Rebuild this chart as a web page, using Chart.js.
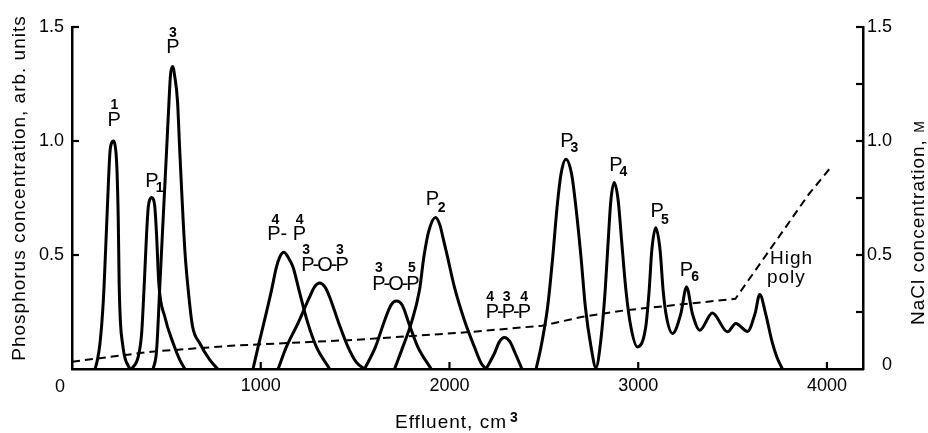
<!DOCTYPE html>
<html><head><meta charset="utf-8">
<script src="https://cdn.jsdelivr.net/npm/chart.js@4"></script>
<style>html,body{margin:0;padding:0;background:#fff}#wrap{width:928px;height:433px;position:relative}</style>
</head><body><div id="wrap"><canvas id="c"></canvas></div>
<script>
// ---- axis ticks ----
const xTicks = [0, 1000, 2000, 3000, 4000];
const yLeftTicks = [0.5, 1.0, 1.5];
const yRightTicks = [0, 0.5, 1.0, 1.5];
const yRightMinor = [0.25, 0.75, 1.25];

// ---- peaks (effluent cm3, phosphorus arb. units) ----
const peak1P_x = [122, 132, 148, 166, 178, 189, 201, 212, 219, 226, 233, 238, 245, 250, 257, 268, 280, 307];
const peak1P_y = [0, 0.03, 0.11, 0.30, 0.52, 0.74, 0.95, 0.995, 1.0, 0.99, 0.95, 0.88, 0.66, 0.37, 0.2, 0.11, 0.05, 0];

const peakP1_x = [316, 351, 369, 383, 395, 404, 413, 422, 431, 439, 448, 460, 492, 536, 571, 598];
const peakP1_y = [0, 0.054, 0.157, 0.375, 0.59, 0.71, 0.745, 0.752, 0.745, 0.71, 0.59, 0.375, 0.228, 0.113, 0.04, 0];

const peak3P_x = [430, 448, 466, 483, 501, 514, 522, 533, 545, 559, 571, 598, 616, 638, 677, 730, 772];
const peak3P_y = [0, 0.08, 0.375, 0.66, 0.956, 1.175, 1.29, 1.327, 1.28, 1.175, 0.956, 0.52, 0.345, 0.19, 0.113, 0.04, 0];

const peakPP_x = [959, 986, 1016, 1057, 1083, 1100, 1123, 1145, 1171, 1203, 1250, 1295, 1365];
const peakPP_y = [0, 0.097, 0.2, 0.345, 0.447, 0.49, 0.512, 0.49, 0.447, 0.345, 0.2, 0.097, 0];

const peakPOP33_x = [1092, 1136, 1197, 1259, 1285, 1312, 1340, 1365, 1414, 1462, 1506, 1550];
const peakPOP33_y = [0, 0.097, 0.2, 0.316, 0.36, 0.377, 0.36, 0.316, 0.2, 0.097, 0.03, 0];

const peakPOP35_x = [1550, 1608, 1651, 1690, 1718, 1750, 1785, 1832, 1903];
const peakPOP35_y = [0, 0.097, 0.2, 0.28, 0.298, 0.28, 0.2, 0.097, 0];

const peakP2_x = [1709, 1753, 1797, 1841, 1864, 1891, 1926, 1950, 1965, 1986, 2026, 2079, 2132, 2168, 2194];
const peakP2_y = [0, 0.097, 0.2, 0.345, 0.49, 0.607, 0.665, 0.63, 0.578, 0.505, 0.36, 0.214, 0.097, 0.025, 0];

const peakPPP_x = [2194, 2238, 2265, 2291, 2320, 2349, 2384];
const peakPPP_y = [0, 0.068, 0.12, 0.138, 0.12, 0.068, 0];

const tail_x = [2459, 2485, 2520, 2547, 2570, 2591, 2617, 2647, 2670, 2697, 2720, 2750, 2776, 2802, 2825, 2841, 2855, 2873, 2894, 2912, 2935, 2961, 2996, 3040, 3058, 3072, 3093, 3116, 3132, 3150, 3182, 3226, 3256, 3287, 3326, 3393, 3473, 3517, 3579, 3619, 3644, 3675, 3707, 3734, 3764];
const tail_y = [0, 0.097, 0.272, 0.49, 0.709, 0.855, 0.92, 0.855, 0.709, 0.49, 0.272, 0.097, 0.006, 0.127, 0.345, 0.563, 0.738, 0.818, 0.738, 0.563, 0.345, 0.185, 0.097, 0.185, 0.345, 0.52, 0.619, 0.52, 0.345, 0.228, 0.156, 0.243, 0.36, 0.243, 0.17, 0.246, 0.163, 0.2, 0.165, 0.243, 0.327, 0.243, 0.127, 0.054, 0];

// ---- NaCl gradient (M) ----
const nacl_x = [0, 69, 421, 862, 1506, 2106, 2490, 2700, 2935, 3515, 3905, 4013];
const nacl_y = [0.032, 0.039, 0.076, 0.103, 0.128, 0.162, 0.19, 0.228, 0.258, 0.308, 0.768, 0.877];

// ---- peak labels (anchored at data coordinates) ----
const peakLabels = [
  {t:'1', x:225, y:1.158, k:'d'}, {t:'P', x:223, y:1.09, k:'p'},
  {t:'P', x:424, y:0.822, k:'p'}, {t:'1', x:464, y:0.794, k:'d'},
  {t:'3', x:535, y:1.474, k:'d'}, {t:'P', x:535, y:1.412, k:'p'},
  {t:'4', x:1078, y:0.654, k:'d'}, {t:'4', x:1206, y:0.654, k:'d'}, {t:'P- P', x:1137, y:0.588, k:'p'}, {t:'3', x:1241, y:0.522, k:'d'},
  {t:'3', x:1420, y:0.522, k:'d'}, {t:'P-O-P', x:1335, y:0.452, k:'q'},
  {t:'3', x:1626, y:0.443, k:'d'}, {t:'5', x:1801, y:0.443, k:'d'}, {t:'P-O-P', x:1711, y:0.371, k:'q'},
  {t:'P', x:1910, y:0.743, k:'p'}, {t:'2', x:1958, y:0.707, k:'d'},
  {t:'4', x:2215, y:0.317, k:'d'}, {t:'3', x:2303, y:0.317, k:'d'}, {t:'4', x:2396, y:0.317, k:'d'}, {t:'P-P-P', x:2307, y:0.246, k:'q'},
  {t:'P', x:2622, y:1.0, k:'p'}, {t:'3', x:2662, y:0.969, k:'d'},
  {t:'P', x:2882, y:0.894, k:'p'}, {t:'4', x:2922, y:0.864, k:'d'},
  {t:'P', x:3100, y:0.689, k:'p'}, {t:'5', x:3142, y:0.654, k:'d'},
  {t:'P', x:3256, y:0.434, k:'p'}, {t:'6', x:3301, y:0.404, k:'d'},
  {t:'High', x:3698, y:0.482, k:'w'}, {t:'poly', x:3682, y:0.399, k:'w'}
];

const FAMILY = "'Liberation Sans', Arial, Helvetica, sans-serif";
Chart.defaults.font.family = FAMILY;
Chart.defaults.color = '#000';

function pts(xs, ys) { return xs.map((x, i) => ({x: x, y: ys[i]})); }
function peak(xs, ys) {
  return {data: pts(xs, ys), borderColor: '#000', borderWidth: 3, pointRadius: 0,
          cubicInterpolationMode: 'monotone', fill: false, yAxisID: 'y'};
}

const inkPlugin = {
  id: 'ink',
  afterDraw(chart) {
    const {ctx, scales: {x, y, y2}} = chart;
    ctx.save();
    ctx.strokeStyle = '#000';
    ctx.fillStyle = '#000';
    ctx.lineWidth = 2.2;
    const seg = (a, b, c, d) => { ctx.beginPath(); ctx.moveTo(a, b); ctx.lineTo(c, d); ctx.stroke(); };
    xTicks.forEach(v => { if (v > 0) { const px = x.getPixelForValue(v); seg(px, x.top, px, x.top - 7); } });
    yLeftTicks.forEach(v => { const py = y.getPixelForValue(v); seg(y.right, py, y.right + 7, py); });
    yRightTicks.concat(yRightMinor).forEach(v => { if (v > 0) { const py = y2.getPixelForValue(v); seg(y2.left, py, y2.left - 7, py); } });

    // origin label "0" of the effluent axis
    ctx.font = '18px ' + FAMILY;
    ctx.textAlign = 'center'; ctx.textBaseline = 'top';
    ctx.fillText('0', x.getPixelForValue(0) - 12, x.top + 9);

    // right axis tick labels (right aligned)
    ctx.textAlign = 'right'; ctx.textBaseline = 'middle';
    yRightTicks.forEach(v => {
      const py = y2.getPixelForValue(v) - (v === 0 ? 4 : 0);
      ctx.fillText(v === 0 ? '0' : v.toFixed(1), y2.left + 29, py);
    });

    // peak labels
    peakLabels.forEach(l => {
      const px = x.getPixelForValue(l.x), py = y.getPixelForValue(l.y);
      ctx.textBaseline = 'middle';
      if (l.k === 'd') { ctx.font = 'bold 14px ' + FAMILY; ctx.letterSpacing = '0px'; ctx.textAlign = 'center'; }
      else if (l.k === 'p') { ctx.font = '20px ' + FAMILY; ctx.letterSpacing = '0px'; ctx.textAlign = 'center'; }
      else if (l.k === 'q') { ctx.font = '20px ' + FAMILY; ctx.letterSpacing = '-2px'; ctx.textAlign = 'center'; }
      else { ctx.font = '19px ' + FAMILY; ctx.letterSpacing = '1px'; ctx.textAlign = 'left'; }
      ctx.fillText(l.t, px, py);
    });

    // axis titles
    ctx.letterSpacing = '1px';
    ctx.font = '19px ' + FAMILY;
    ctx.textBaseline = 'alphabetic';
    // left
    ctx.save();
    ctx.translate(25, 188); ctx.rotate(-Math.PI / 2);
    ctx.textAlign = 'center';
    ctx.fillText('Phosphorus concentration, arb. units', 0, 0);
    ctx.restore();
    // right
    ctx.save();
    ctx.translate(924, 325); ctx.rotate(-Math.PI / 2);
    ctx.textAlign = 'left';
    const main = 'NaCl concentration, ';
    ctx.fillText(main, 0, 0);
    const w = ctx.measureText(main).width;
    ctx.font = '14px ' + FAMILY;
    ctx.fillText('M', w, 0);
    ctx.restore();
    // bottom
    ctx.font = '19px ' + FAMILY;
    ctx.textAlign = 'left';
    const xt = 'Effluent, cm';
    ctx.fillText(xt, 395, 428);
    const w2 = ctx.measureText(xt).width;
    ctx.font = 'bold 14px ' + FAMILY;
    ctx.letterSpacing = '0px';
    ctx.fillText('3', 395 + w2 + 3, 422);
    ctx.restore();
  }
};

new Chart(document.getElementById('c'), {
  type: 'line',
  data: {
    datasets: [
      peak(peak1P_x, peak1P_y),
      peak(peakP1_x, peakP1_y),
      peak(peak3P_x, peak3P_y),
      peak(peakPP_x, peakPP_y),
      peak(peakPOP33_x, peakPOP33_y),
      peak(peakPOP35_x, peakPOP35_y),
      peak(peakP2_x, peakP2_y),
      peak(peakPPP_x, peakPPP_y),
      peak(tail_x, tail_y),
      {data: pts(nacl_x, nacl_y), borderColor: '#000', borderWidth: 2, borderDash: [8, 5],
       pointRadius: 0, tension: 0, fill: false, yAxisID: 'y2'}
    ]
  },
  options: {
    responsive: true, maintainAspectRatio: false, animation: false,
    layout: {padding: {top: 27, left: 0, right: 0, bottom: 0}},
    plugins: {legend: {display: false}, tooltip: {enabled: false}},
    scales: {
      x: {
        type: 'linear', position: 'bottom', min: 0, max: 4191,
        grid: {display: false, drawTicks: false},
        border: {display: true, color: '#000', width: 2.5},
        ticks: {color: '#000', font: {size: 18}, padding: 6, maxRotation: 0, autoSkip: false,
                callback: v => (v === 0 ? '' : String(v))},
        afterBuildTicks: s => { s.ticks = xTicks.map(v => ({value: v})); },
        afterFit: s => { s.height = 64; }
      },
      y: {
        type: 'linear', position: 'left', min: 0, max: 1.5,
        grid: {display: false, drawTicks: false},
        border: {display: true, color: '#000', width: 2.5},
        ticks: {color: '#000', font: {size: 18}, padding: 8, callback: v => Number(v).toFixed(1)},
        afterBuildTicks: s => { s.ticks = yLeftTicks.map(v => ({value: v})); },
        afterFit: s => { s.width = 72; }
      },
      y2: {
        type: 'linear', position: 'right', min: 0, max: 1.5,
        grid: {display: false, drawTicks: false},
        border: {display: true, color: '#000', width: 2.5},
        ticks: {display: false},
        afterBuildTicks: s => { s.ticks = yRightTicks.map(v => ({value: v})); },
        afterFit: s => { s.width = 65; }
      }
    }
  },
  plugins: [inkPlugin]
});
</script>
</body></html>
